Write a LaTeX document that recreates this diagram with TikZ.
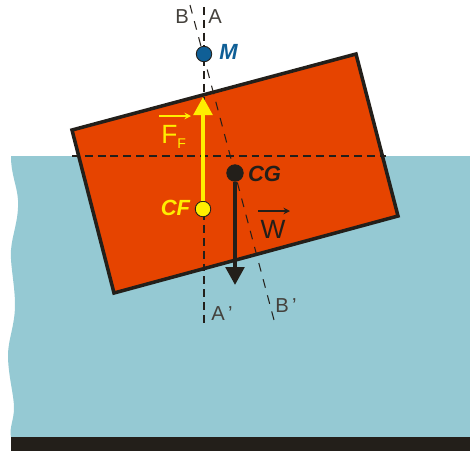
\documentclass[tikz,border=0pt]{standalone}
\usepackage{fontspec}
\setmainfont{Liberation Sans}
\usetikzlibrary{arrows.meta, positioning}
\definecolor{water}{HTML}{95C9D3}
\definecolor{block}{HTML}{E64400}
\definecolor{ground}{HTML}{231F1A}
\definecolor{metac}{HTML}{0F5F96}
\definecolor{buoy}{HTML}{FFEE00}
\begin{document}
\begin{tikzpicture}[
    x=0.02cm, y=-0.02cm,
    >=Stealth,
    axis/.style={dash pattern=on 4.5pt off 2.8pt, line width=0.6pt, draw=ground},
    axisb/.style={dash pattern=on 5pt off 4.5pt, line width=0.6pt, draw=ground},
    point/.style={circle, draw=ground, line width=0.5pt, inner sep=0pt, minimum size=0.31cm},
    force/.style={-{Stealth[length=0.36cm, width=0.37cm, inset=0pt]}, line width=2.3pt},
    vecbar/.style={-{Stealth[length=0.13cm, width=0.13cm]}, line width=0.7pt},
    lbl/.style={font=\fontsize{11.5}{13}\selectfont, text=ground!85, inner sep=0pt},
    tag/.style={font=\fontsize{12.5}{14}\selectfont\bfseries\itshape, inner sep=0pt}
  ]
  \useasboundingbox (0,0) rectangle (470,451);

  % Water and bottom
  \fill[water] (11,156) -- (470,156) -- (470,437) -- (11,437)
    .. controls (9,428) and (14,420) .. (14,408)
    .. controls (14,395) and (8,375) .. (8,355)
    .. controls (8,340) and (15,325) .. (15,305)
    .. controls (15,285) and (10,265) .. (11,250)
    .. controls (12,235) and (19,220) .. (18,200)
    .. controls (17,185) and (11,175) .. (11,156) -- cycle;
  \fill[ground] (11,437) rectangle (470,451);

  % Floating block
  \filldraw[block, draw=ground, line width=2pt]
    (72,130) -- (356,54) -- (398,216) -- (114,293) -- cycle;

  % Axes
  \coordinate (waterL) at (72,156);
  \coordinate (waterR) at (386,156);
  \coordinate (aTop) at (204,7);
  \coordinate (aBot) at (204,325);
  \coordinate (bTop) at (190,5);
  \coordinate (bBot) at (274,320);
  \draw[axis] (waterL) -- (waterR);
  \draw[axis] (aTop) -- (aBot);
  \draw[axisb] (bTop) -- (bBot);

  % Points
  \node[point, fill=metac] (M) at (204,54) {};
  \node[point, fill=buoy] (CF) at (203,209) {};
  \node[point, fill=ground, minimum size=0.33cm] (CG) at (235,173) {};
  \coordinate (Ftip) at (203,97);
  \coordinate (Wtip) at (235,285);

  % Forces
  \draw[force, buoy] (CF) -- (Ftip);
  \draw[force, ground] (CG) -- (Wtip);

  % Vector bars
  \coordinate (FbarL) at (159,116);
  \coordinate (FbarR) at (191,116);
  \coordinate (WbarL) at (258,211);
  \coordinate (WbarR) at (290,211);
  \draw[vecbar, buoy] (FbarL) -- (FbarR);
  \draw[vecbar, ground] (WbarL) -- (WbarR);

  % Labels
  \node[lbl] (lB) at (182,17) {B};
  \node[lbl] (lA) at (215,17) {A};
  \node[lbl] (lAp) at (222,314) {A\hspace{2pt}'};
  \node[lbl] (lBp) at (286,306) {B\hspace{2pt}'};
  \node[tag, text=metac] (lM) at (228.5,52) {M};
  \node[tag, text=buoy] (lCF) at (175.5,207.5) {CF};
  \node[tag, text=ground] (lCG) at (264.5,174) {CG};
  \node[font=\fontsize{15}{17}\selectfont, text=buoy, inner sep=0pt, anchor=base west] (lF) at (161,143) {F\raisebox{-3.4pt}{\fontsize{8}{9}\selectfont F}};
  \node[font=\fontsize{15}{17}\selectfont, text=ground, inner sep=0pt] (lW) at (273,229) {W};
\end{tikzpicture}
\end{document}
